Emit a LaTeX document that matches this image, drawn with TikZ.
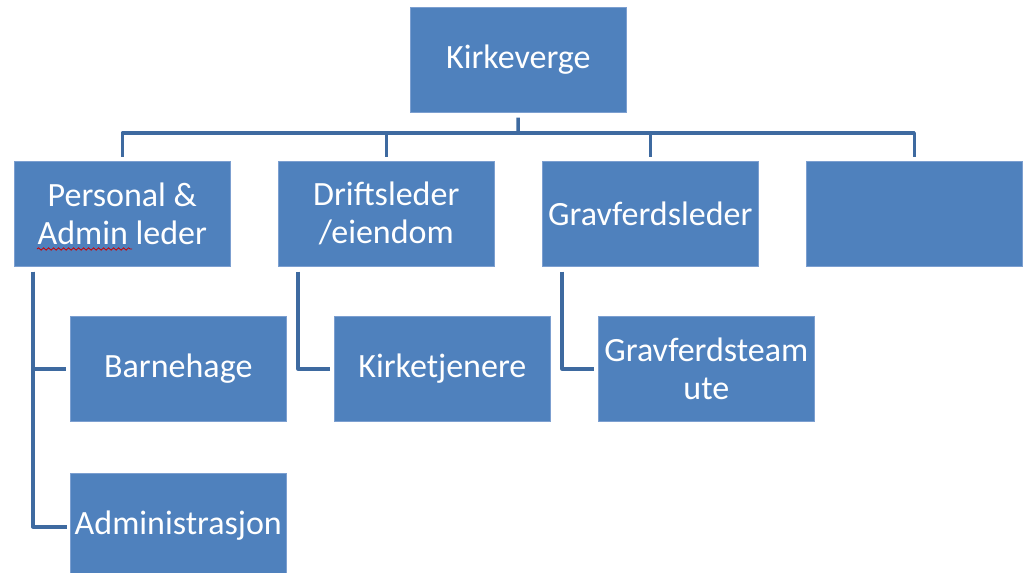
\documentclass[tikz,border=0pt]{standalone}
\usepackage{fontspec}
\setmainfont{Carlito}
\usetikzlibrary{decorations.pathmorphing}
\definecolor{boxblue}{HTML}{4F81BD}
\definecolor{boxedge}{HTML}{7C9FD0}
\definecolor{lineblue}{RGB}{62,106,160}
\tikzset{
  orgbox/.style={rectangle, fill=boxblue, draw=boxedge, line width=0.6pt,
    minimum width=216pt, minimum height=105pt, inner sep=0pt, anchor=north west,
    text=white, align=center, font=\fontsize{34}{38}\selectfont},
  conn/.style={draw=lineblue, line width=3.5pt, line join=round},
}
\begin{document}
\begin{tikzpicture}[x=1pt,y=-1pt]
\useasboundingbox (0,0) rectangle (1029,573);
\node[orgbox] (k) at (410,7) {Kirkeverge};
\node[orgbox] (p) at (14,161) {Personal \&\\Admin leder};
\node[orgbox] (d) at (278,161) {Driftsleder\\/eiendom};
\node[orgbox] (g) at (542,161) {Gravferdsleder};
\node[orgbox] (e) at (806,161) {};
\node[orgbox] (b) at (70,316) {Barnehage};
\node[orgbox] (a) at (70,473) {Administrasjon};
\node[orgbox] (t) at (334,316) {Kirketjenere};
\node[orgbox] (s) at (598,316) {Gravferdsteam\\ute};
\coordinate (bar) at (518,133);
\draw[conn, shorten <=5pt] (k.south) -- (bar);
\draw[conn, shorten >=4pt] (bar) -| (p.north);
\draw[conn, shorten >=4pt] (bar) -| (d.north);
\draw[conn, shorten >=4pt] (bar) -| (g.north);
\draw[conn, shorten >=4pt] (bar) -| (e.north);
\draw[conn, shorten <=5pt, shorten >=4pt] ([xshift=19pt]p.south west) |- (b.west);
\draw[conn, shorten <=5pt, shorten >=3pt] ([xshift=19pt]p.south west) |- ([yshift=-1pt]a.west);
\draw[conn, shorten <=5pt, shorten >=4pt] ([xshift=20pt]d.south west) |- (t.west);
\draw[conn, shorten <=5pt, shorten >=4pt] ([xshift=20pt]g.south west) |- (s.west);
\draw[red!80!black, line width=0.8pt, decorate,
  decoration={snake, amplitude=1.2pt, segment length=5pt}] (37,249) -- (132,249);
\end{tikzpicture}
\end{document}
